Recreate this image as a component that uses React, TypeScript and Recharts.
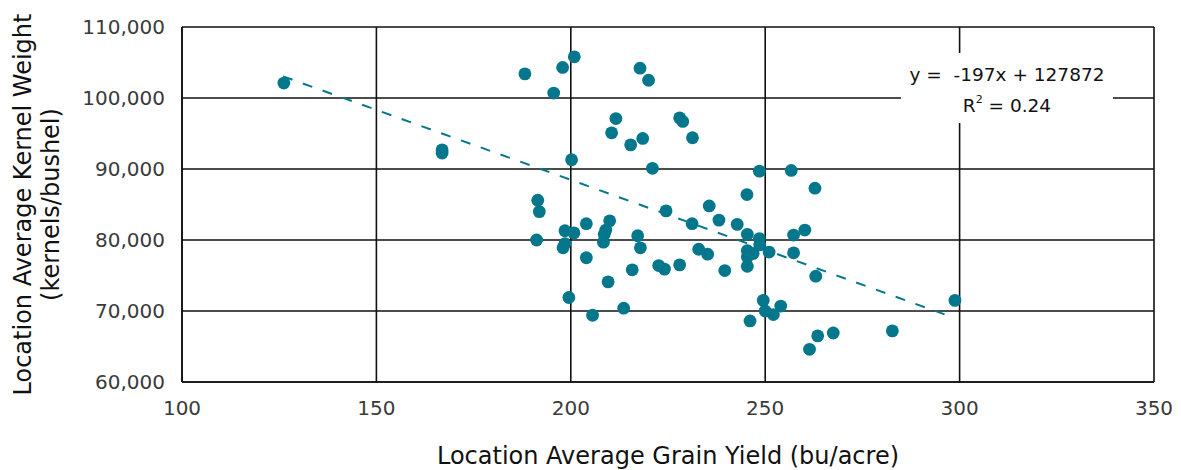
import React from 'react'
import { ScatterChart, Scatter, XAxis, YAxis, CartesianGrid, ReferenceLine } from 'recharts'

const yieldBu = [
  126.2, 166.9, 166.9, 188.2, 197.9, 200.9, 195.6, 200.2, 191.5, 191.9,
  191.2, 198.5, 200.8, 198.5, 198.0, 199.5, 204.0, 204.0, 205.6, 210.0,
  209.0, 208.6, 208.4, 209.6, 211.6, 210.5, 213.6, 215.4, 215.8, 217.2,
  217.9, 217.8, 218.5, 220.0, 221.0, 222.6, 224.1, 224.5, 228.0, 228.8,
  228.0, 231.3, 231.2, 232.9, 235.6, 235.2, 238.1, 239.6, 242.8, 245.3,
  245.4, 245.4, 245.4, 245.4, 246.9, 246.1, 248.5, 248.5, 248.6, 251.0,
  249.5, 250.0, 252.1, 254.0, 256.7, 257.3, 257.3, 260.2, 262.8, 263.0,
  263.5, 261.4, 267.5, 282.7, 298.8,
]
const kernelWt = [
  102100, 92700, 92250, 103400, 104300, 105800, 100700, 91300, 85600, 84000,
  80000, 81300, 81000, 79500, 78900, 71900, 82300, 77500, 69400, 82700,
  81400, 80800, 79700, 74100, 97100, 95100, 70400, 93400, 75800, 80600,
  78900, 104200, 94300, 102500, 90100, 76400, 75900, 84100, 97200, 96700,
  76500, 94400, 82300, 78700, 84800, 78000, 82800, 75700, 82200, 86400,
  80800, 78500, 77600, 76300, 78100, 68600, 89700, 80200, 79300, 78300,
  71500, 70000, 69500, 70700, 89800, 80700, 78200, 81400, 87300, 74900,
  66500, 64600, 66900, 67200, 71500,
]
const xTicks = [100, 150, 200, 250, 300, 350]
const yTicks = [60000, 70000, 80000, 90000, 100000, 110000]
const slope = -197
const intercept = 127872
const trendRange = [126, 298]

const TEAL = '#05778c'
const FONT = '"DejaVu Sans", sans-serif'

const points = yieldBu.map((x, i) => ({ x, y: kernelWt[i] }))

const Dot = (props: any) => <circle cx={props.cx} cy={props.cy} r={6.4} fill={TEAL} />

const YTitle = ({ viewBox }: any) => {
  const cy = viewBox.y + viewBox.height / 2
  return (
    <text transform={`rotate(-90, 36, ${cy})`} x={36} y={cy} textAnchor="middle" fontFamily={FONT} fontSize={24} fill="#111">
      <tspan x={36} dy={-5}>Location Average Kernel Weight</tspan>
      <tspan x={36} dy={28}>(kernels/bushel)</tspan>
    </text>
  )
}

const XTitle = ({ viewBox }: any) => (
  <text x={viewBox.x + viewBox.width / 2} y={464} textAnchor="middle" fontFamily={FONT} fontSize={24} fill="#111">
    Location Average Grain Yield (bu/acre)
  </text>
)

export default function App() {
  return (
    <div style={{ position: 'relative', width: 1181, height: 470, background: '#fff' }}>
      <style>{'body{margin:0}'}</style>
      <ScatterChart width={1181} height={470} margin={{ top: 27, right: 27, bottom: 0, left: 0 }}>
        <CartesianGrid stroke="#111" strokeWidth={1.6} horizontalValues={yTicks} verticalValues={xTicks} />
        <XAxis
          type="number"
          dataKey="x"
          domain={[100, 350]}
          ticks={xTicks}
          height={88}
          tickSize={0}
          tickMargin={19}
          axisLine={{ stroke: '#111', strokeWidth: 1.6 }}
          tick={{ fill: '#3a3a3a', fontSize: 20, fontFamily: FONT }}
          label={<XTitle />}
        />
        <YAxis
          type="number"
          dataKey="y"
          domain={[60000, 110000]}
          ticks={yTicks}
          width={182}
          tickSize={0}
          tickMargin={17}
          axisLine={{ stroke: '#111', strokeWidth: 1.6 }}
          tickFormatter={(v: number) => v.toLocaleString('en-US')}
          tick={{ fill: '#3a3a3a', fontSize: 20, fontFamily: FONT }}
          label={<YTitle />}
        />
        <ReferenceLine
          segment={[
            { x: trendRange[0], y: slope * trendRange[0] + intercept },
            { x: trendRange[1], y: slope * trendRange[1] + intercept },
          ]}
          stroke={TEAL}
          strokeWidth={2}
          strokeDasharray="10 11"
          ifOverflow="visible"
        />
        <Scatter data={points} shape={<Dot />} isAnimationActive={false} />
      </ScatterChart>
      <div
        style={{
          position: 'absolute',
          left: 901,
          top: 53,
          width: 212,
          height: 70,
          background: '#fff',
          fontFamily: FONT,
          fontSize: 18.5,
          color: '#111',
          textAlign: 'center',
          lineHeight: '31px',
          paddingTop: 6,
          boxSizing: 'border-box',
        }}
      >
        <div style={{ whiteSpace: 'pre' }}>{'y =  -197x + 127872'}</div>
        <div>
          R<sup style={{ fontSize: 11, verticalAlign: 'top', lineHeight: '20px' }}>2</sup> = 0.24
        </div>
      </div>
    </div>
  )
}
